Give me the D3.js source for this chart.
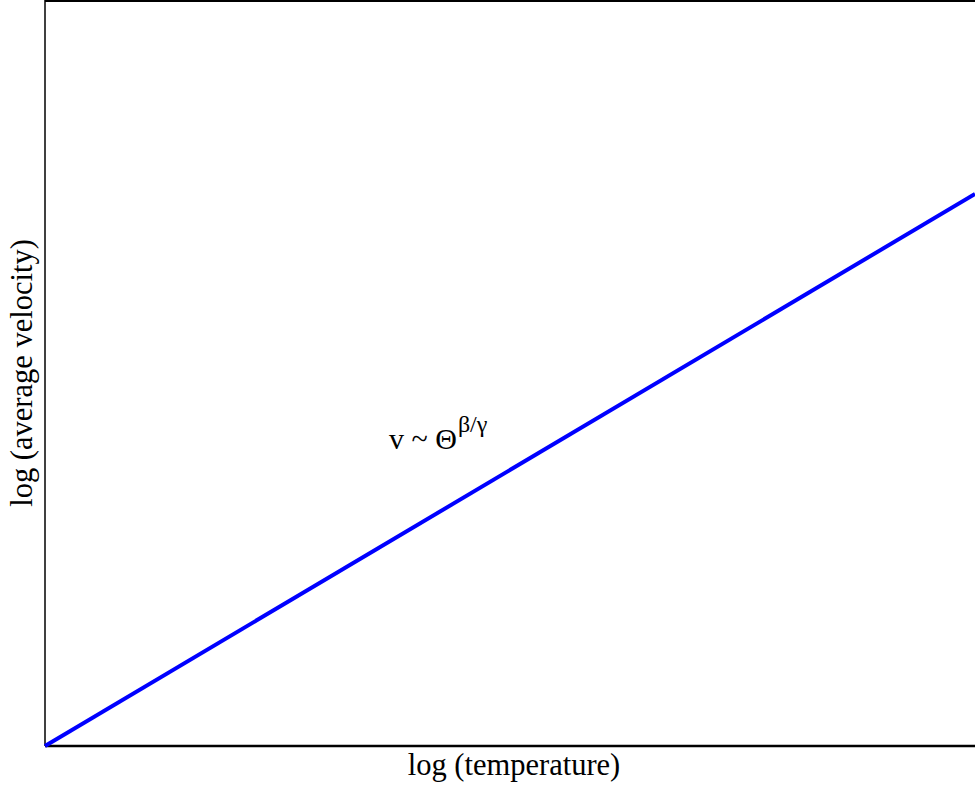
<!DOCTYPE html>
<html>
<head>
<meta charset="utf-8">
<script src="https://cdn.jsdelivr.net/npm/d3@7"></script>
<style>
  html, body { margin: 0; padding: 0; background: #fff; }
  svg { display: block; }
</style>
</head>
<body>
<svg id="chart" width="975" height="786"></svg>
<script>
// log-log relation: log v grows linearly with log temperature
const logTemperature = [0, 1];
const logVelocity = [0, 0.741];
const xLabel = "log (temperature)";
const yLabel = "log (average velocity)";

const FONT = "'Liberation Serif', 'Times New Roman', Times, 'DejaVu Serif', serif";
const width = 975, height = 786;
const margin = { top: 1, right: 0, bottom: 40, left: 45 };

const svg = d3.select("#chart");

const x = d3.scaleLinear().domain([0, 1]).range([margin.left, width - margin.right]);
const y = d3.scaleLinear().domain([0, 1]).range([height - margin.bottom, margin.top]);

const pts = logTemperature.map((t, i) => [t, logVelocity[i]]);

// frame: top, left and bottom edges
svg.append("line")
  .attr("x1", x(0)).attr("x2", x(1))
  .attr("y1", y(1)).attr("y2", y(1))
  .attr("stroke", "#000").attr("stroke-width", 2);
svg.append("line")
  .attr("x1", x(0)).attr("x2", x(0))
  .attr("y1", y(1) - 1).attr("y2", y(0))
  .attr("stroke", "#000").attr("stroke-width", 1.5);
svg.append("line")
  .attr("x1", x(0)).attr("x2", x(1))
  .attr("y1", y(0)).attr("y2", y(0))
  .attr("stroke", "#000").attr("stroke-width", 2.5);

// the power-law line
svg.append("path")
  .datum(pts)
  .attr("fill", "none")
  .attr("stroke", "#0000ff")
  .attr("stroke-width", 4)
  .attr("d", d3.line().x(d => x(d[0])).y(d => y(d[1])));

// annotation
const ann = svg.append("text")
  .attr("x", 389).attr("y", 449)
  .attr("font-family", FONT)
  .attr("font-size", 30);
ann.append("tspan").text("v ~ Θ");
ann.append("tspan").attr("dx", 1).attr("dy", -17).attr("font-size", 24).text("β/γ");

// axis labels
svg.append("text")
  .attr("x", 514).attr("y", 775)
  .attr("text-anchor", "middle")
  .attr("font-family", FONT)
  .attr("font-size", 30.5)
  .text(xLabel);

svg.append("text")
  .attr("transform", `translate(32, 373) rotate(-90)`)
  .attr("text-anchor", "middle")
  .attr("font-family", FONT)
  .attr("font-size", 30.5)
  .text(yLabel);
</script>
</body>
</html>
